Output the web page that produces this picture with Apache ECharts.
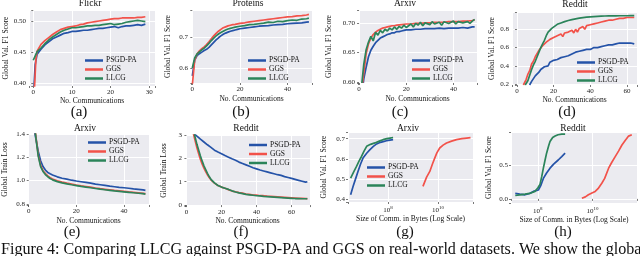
<!DOCTYPE html>
<html><head><meta charset="utf-8">
<script src="https://cdn.jsdelivr.net/npm/echarts@6/dist/echarts.min.js"></script>
<style>html,body{margin:0;padding:0;background:#fff}#c{width:640px;height:256px}</style>
</head><body><div id="c"></div>
<script>
const NAMES = ['PSGD-PA', 'GGS', 'LLCG'];
const COLORS = ['#2553a8', '#f2524a', '#2b845a'];

// (a) Flickr: [communications, F1]
const flickrPSGD = [[0.2,0.395],[0.5,0.43],[1,0.447],[2,0.455],[3,0.462],[4,0.467],[5,0.472],[6,0.475],[7,0.478],[8,0.481],[9,0.482],[10,0.484],[11,0.484],[12,0.485],[13,0.486],[14,0.486],[15,0.487],[16,0.488],[17,0.489],[18,0.489],[19,0.490],[20,0.491],[21,0.492],[22,0.490],[23,0.492],[24,0.493],[25,0.493],[26,0.494],[27,0.495],[28,0.494],[29,0.496]];
const flickrGGS = [[0.3,0.39],[0.7,0.44],[1,0.452],[2,0.463],[3,0.469],[4,0.474],[5,0.479],[6,0.483],[7,0.487],[8,0.489],[9,0.491],[10,0.492],[11,0.493],[12,0.495],[13,0.496],[14,0.498],[15,0.499],[16,0.500],[17,0.501],[18,0.502],[19,0.503],[20,0.504],[21,0.505],[22,0.505],[23,0.506],[24,0.506],[25,0.506],[26,0.506],[27,0.507],[28,0.507],[29,0.508]];
const flickrLLCG = [[0,0.437],[1,0.451],[2,0.457],[3,0.464],[4,0.470],[5,0.475],[6,0.479],[7,0.483],[8,0.486],[9,0.488],[10,0.490],[11,0.490],[12,0.491],[13,0.492],[14,0.493],[15,0.493],[16,0.494],[17,0.494],[18,0.495],[19,0.496],[20,0.497],[21,0.495],[22,0.496],[23,0.497],[24,0.499],[25,0.500],[26,0.501],[27,0.502],[28,0.501],[29,0.500]];

// (b) Proteins
const proteinsPSGD = [[0,0.575],[1,0.625],[2,0.640],[3,0.646],[4,0.651],[5,0.656],[6,0.660],[7,0.666],[8,0.674],[9,0.682],[10,0.690],[11,0.697],[12,0.703],[13,0.708],[14,0.712],[15,0.715],[16,0.718],[17,0.720],[18,0.722],[19,0.724],[20,0.726],[22,0.728],[24,0.730],[26,0.732],[28,0.734],[30,0.735],[32,0.736],[34,0.738],[36,0.739],[38,0.740],[40,0.742],[42,0.743],[44,0.744],[46,0.745],[48,0.747],[49,0.748]];
const proteinsGGS = [[0,0.545],[1,0.625],[2,0.645],[3,0.655],[4,0.662],[5,0.668],[6,0.675],[7,0.684],[8,0.694],[9,0.703],[10,0.711],[11,0.718],[12,0.724],[13,0.729],[14,0.732],[15,0.735],[16,0.737],[17,0.739],[18,0.740],[20,0.743],[22,0.745],[24,0.748],[26,0.750],[28,0.752],[30,0.754],[32,0.756],[34,0.758],[36,0.760],[38,0.762],[40,0.764],[42,0.765],[44,0.767],[46,0.768],[48,0.770],[49,0.772]];
const proteinsLLCG = [[0,0.600],[1,0.632],[2,0.645],[3,0.652],[4,0.658],[5,0.664],[6,0.671],[7,0.679],[8,0.688],[9,0.696],[10,0.703],[11,0.709],[12,0.714],[13,0.718],[14,0.722],[15,0.725],[16,0.727],[17,0.729],[18,0.731],[20,0.734],[22,0.736],[24,0.739],[26,0.740],[28,0.742],[30,0.744],[32,0.747],[34,0.746],[36,0.750],[38,0.749],[40,0.752],[42,0.754],[44,0.753],[46,0.757],[48,0.758],[49,0.760]];

// (c) Arxiv
const arxivPSGD = [[1.8,0.598],[2,0.605],[3,0.625],[4,0.643],[5,0.654],[6,0.661],[7,0.667],[8,0.671],[9,0.675],[10,0.677],[11,0.679],[12,0.681],[13,0.682],[14,0.684],[15,0.684],[16,0.686],[17,0.686],[18,0.687],[19,0.688],[20,0.689],[22,0.689],[24,0.690],[26,0.690],[28,0.691],[30,0.691],[32,0.691],[34,0.692],[36,0.691],[38,0.692],[40,0.692],[42,0.692],[44,0.693],[46,0.692],[48,0.694],[49,0.694]];
const arxivGGS = [[1.5,0.598],[2,0.615],[3,0.648],[4,0.665],[5,0.675],[6,0.681],[7,0.685],[8,0.688],[9,0.690],[10,0.692],[11,0.693],[12,0.694],[13,0.695],[14,0.696],[15,0.696],[16,0.697],[18,0.698],[20,0.699],[22,0.699],[24,0.700],[26,0.700],[28,0.701],[30,0.701],[32,0.702],[34,0.702],[36,0.702],[38,0.703],[40,0.703],[42,0.703],[44,0.704],[46,0.704],[48,0.705],[49,0.706]];
const arxivLLCG = [[1.2,0.598],[2,0.63],[3,0.655],[4,0.668],[5,0.678],[6,0.670],[7,0.685],[8,0.680],[9,0.688],[10,0.684],[11,0.690],[12,0.687],[13,0.692],[14,0.689],[15,0.694],[16,0.690],[17,0.695],[18,0.692],[19,0.697],[20,0.693],[22,0.699],[23,0.694],[24,0.700],[25,0.697],[26,0.702],[27,0.696],[28,0.701],[30,0.698],[31,0.703],[32,0.699],[34,0.702],[35,0.697],[36,0.703],[38,0.700],[40,0.704],[41,0.699],[42,0.703],[44,0.701],[46,0.703],[47,0.700],[48,0.704],[49,0.707]];

// (d) Reddit
const redditPSGD = [[6.9,0.19],[8,0.23],[9,0.26],[10,0.29],[11,0.31],[12,0.33],[13,0.36],[14,0.37],[15,0.39],[16,0.41],[17,0.40],[18,0.44],[19,0.43],[20,0.46],[21,0.44],[22,0.47],[23,0.46],[24,0.49],[25,0.47],[26,0.50],[27,0.49],[28,0.51],[29,0.50],[30,0.53],[31,0.52],[32,0.55],[33,0.53],[34,0.56],[35,0.55],[36,0.57],[37,0.56],[38,0.58],[39,0.57],[40,0.58],[41,0.57],[42,0.60],[43,0.58],[44,0.60],[45,0.59],[46,0.61],[47,0.60],[48,0.62],[49,0.61],[50,0.63],[51,0.61],[52,0.63],[53,0.62],[54,0.64],[55,0.63],[56,0.65],[57,0.63],[58,0.65],[59,0.64],[60,0.65],[61,0.64],[62,0.65],[63,0.64],[64,0.64]];
const redditGGS = [[3.5,0.19],[5,0.25],[6,0.31],[7,0.35],[8,0.42],[9,0.45],[10,0.50],[11,0.52],[12,0.57],[13,0.58],[14,0.62],[15,0.63],[16,0.66],[17,0.64],[18,0.69],[19,0.67],[20,0.71],[21,0.70],[22,0.73],[23,0.71],[24,0.75],[25,0.72],[26,0.76],[27,0.74],[28,0.77],[29,0.75],[30,0.79],[31,0.76],[32,0.80],[33,0.77],[34,0.81],[35,0.79],[36,0.83],[37,0.80],[38,0.84],[39,0.82],[40,0.85],[41,0.83],[42,0.86],[43,0.84],[44,0.87],[45,0.85],[46,0.88],[47,0.87],[48,0.89],[49,0.87],[50,0.90],[51,0.88],[52,0.90],[53,0.89],[54,0.91],[55,0.90],[56,0.92],[57,0.90],[58,0.92],[59,0.91],[60,0.93],[61,0.92],[62,0.93],[63,0.92],[64,0.93]];
const redditLLCG = [[4.5,0.19],[6,0.24],[7,0.30],[8,0.36],[9,0.41],[10,0.45],[11,0.50],[12,0.55],[13,0.60],[14,0.64],[15,0.68],[16,0.73],[17,0.77],[18,0.79],[19,0.81],[20,0.83],[22,0.855],[24,0.87],[26,0.885],[28,0.897],[30,0.907],[32,0.915],[34,0.922],[36,0.928],[38,0.933],[40,0.937],[42,0.940],[44,0.943],[46,0.945],[48,0.946],[50,0.947],[52,0.948],[54,0.948],[56,0.949],[58,0.949],[60,0.949],[62,0.950],[64,0.950]];

// (e) Arxiv train loss
const arxivLossPSGD = [[2.2,1.45],[3,1.36],[4,1.25],[5,1.17],[6,1.12],[7,1.09],[8,1.07],[9,1.058],[10,1.048],[12,1.032],[14,1.020],[16,1.012],[18,1.003],[20,0.996],[22,0.990],[24,0.984],[26,0.978],[28,0.970],[30,0.964],[32,0.958],[34,0.952],[36,0.947],[38,0.942],[40,0.938],[42,0.934],[44,0.929],[46,0.925],[48,0.920],[49,0.916]];
const arxivLossGGS = [[2.6,1.45],[3,1.38],[4,1.22],[5,1.13],[6,1.085],[7,1.06],[8,1.04],[9,1.025],[10,1.013],[12,0.998],[14,0.987],[16,0.978],[18,0.970],[20,0.962],[22,0.955],[24,0.949],[26,0.943],[28,0.936],[30,0.930],[32,0.925],[34,0.920],[36,0.915],[38,0.911],[40,0.907],[42,0.902],[44,0.898],[46,0.894],[48,0.890],[49,0.887]];
const arxivLossLLCG = [[2.6,1.45],[3,1.37],[4,1.21],[5,1.12],[6,1.078],[7,1.052],[8,1.033],[9,1.018],[10,1.006],[12,0.991],[14,0.980],[16,0.972],[18,0.964],[20,0.957],[22,0.950],[24,0.944],[26,0.938],[28,0.932],[30,0.926],[32,0.921],[34,0.916],[36,0.911],[38,0.907],[40,0.903],[42,0.899],[44,0.895],[46,0.891],[48,0.887],[49,0.884]];

// (f) Reddit train loss
const redditLossPSGD = [[4.5,3.05],[6,2.95],[7,2.88],[8,2.82],[9,2.78],[10,2.70],[11,2.66],[12,2.58],[13,2.55],[14,2.47],[15,2.44],[16,2.35],[17,2.36],[18,2.27],[19,2.24],[20,2.20],[21,2.16],[22,2.12],[23,2.10],[24,2.05],[25,2.04],[26,1.98],[27,1.99],[28,1.92],[29,1.90],[30,1.84],[31,1.85],[32,1.78],[33,1.77],[34,1.72],[35,1.71],[36,1.66],[37,1.68],[38,1.60],[39,1.60],[40,1.55],[41,1.56],[42,1.50],[43,1.51],[44,1.46],[45,1.47],[46,1.42],[47,1.43],[48,1.38],[49,1.38],[50,1.34],[51,1.36],[52,1.30],[53,1.31],[54,1.27],[55,1.27],[56,1.22],[57,1.24],[58,1.18],[59,1.20],[60,1.14],[61,1.16],[62,1.10],[63,1.12],[64,1.06],[65,1.08],[66,1.02],[67,1.05],[68,0.98],[69,1.00]];
const redditLossGGS = [[4,3.05],[5,2.75],[6,2.45],[7,2.20],[8,1.95],[9,1.75],[10,1.58],[11,1.43],[12,1.30],[13,1.18],[14,1.08],[15,1.00],[16,0.94],[17,0.88],[18,0.84],[19,0.82],[20,0.77],[21,0.76],[22,0.72],[23,0.71],[24,0.66],[25,0.66],[26,0.60],[27,0.61],[28,0.57],[29,0.56],[30,0.53],[32,0.51],[34,0.47],[36,0.46],[38,0.43],[40,0.43],[42,0.40],[44,0.40],[46,0.38],[48,0.37],[50,0.36],[52,0.35],[54,0.34],[56,0.33],[58,0.32],[60,0.31],[62,0.30],[64,0.29],[66,0.29],[68,0.28],[69,0.28]];
const redditLossLLCG = [[4.5,3.05],[5,2.90],[6,2.60],[7,2.35],[8,2.10],[9,1.88],[10,1.68],[11,1.52],[12,1.36],[13,1.22],[14,1.10],[15,1.02],[16,0.95],[17,0.89],[18,0.84],[19,0.80],[20,0.77],[21,0.75],[22,0.72],[23,0.70],[24,0.67],[25,0.64],[26,0.61],[27,0.59],[28,0.56],[29,0.54],[30,0.52],[32,0.49],[34,0.46],[36,0.44],[38,0.42],[40,0.40],[42,0.39],[44,0.37],[46,0.36],[48,0.35],[50,0.34],[52,0.33],[54,0.32],[56,0.31],[58,0.30],[60,0.29],[62,0.28],[64,0.28],[66,0.27],[68,0.27],[69,0.27]];

// (g) Arxiv: [bytes communicated, F1]
const arxivBytesPSGD = [[3.2e6,0.423],[4.0e6,0.464],[5.0e6,0.50],[6.3e6,0.538],[8.0e6,0.575],[1.0e7,0.604],[1.4e7,0.628],[1.9e7,0.646],[2.6e7,0.662],[3.5e7,0.674],[5.0e7,0.682],[7.0e7,0.687],[8.7e7,0.690],[1.2e8,0.693],[1.6e8,0.695]];
const arxivBytesGGS = [[2.5e9,0.464],[3.5e9,0.51],[4.7e9,0.538],[6.0e9,0.575],[7.4e9,0.604],[9.0e9,0.63],[1.17e10,0.654],[1.6e10,0.668],[2.2e10,0.679],[3.5e10,0.688],[5.5e10,0.695],[9.0e10,0.700],[1.4e11,0.703],[2.0e11,0.705]];
const arxivBytesLLCG = [[3.2e6,0.505],[4.2e6,0.535],[5.5e6,0.563],[7.0e6,0.59],[8.7e6,0.612],[1.1e7,0.638],[1.4e7,0.662],[2.0e7,0.672],[3.0e7,0.679],[4.5e7,0.688],[6.3e7,0.695],[9.0e7,0.700],[1.2e8,0.703],[1.6e8,0.706]];

// (h) Reddit: [bytes communicated, F1]
const redditBytesPSGD = [[1.5e7,0.08],[2.2e7,0.07],[3.4e7,0.06],[5.0e7,0.08],[6.9e7,0.11],[1.05e8,0.13],[1.3e8,0.20],[1.6e8,0.30],[2.1e8,0.38],[2.8e8,0.45],[3.8e8,0.51],[5.6e8,0.57],[7.5e8,0.62],[1.0e9,0.67]];
const redditBytesGGS = [[4.1e9,0.01],[5.5e9,0.03],[7.1e9,0.06],[1.0e10,0.09],[1.26e10,0.11],[1.6e10,0.15],[2.2e10,0.23],[2.8e10,0.30],[3.9e10,0.45],[5.0e10,0.53],[6.8e10,0.62],[9.0e10,0.70],[1.2e11,0.79],[1.6e11,0.86],[2.1e11,0.92],[2.75e11,0.94]];
const redditBytesLLCG = [[1.5e7,0.05],[2.2e7,0.06],[3.4e7,0.07],[5.0e7,0.08],[7.9e7,0.11],[1.0e8,0.16],[1.2e8,0.21],[1.4e8,0.33],[1.6e8,0.45],[1.85e8,0.57],[2.1e8,0.67],[2.5e8,0.78],[2.8e8,0.84],[3.5e8,0.90],[4.3e8,0.92],[5.5e8,0.94],[7.6e8,0.95],[1.0e9,0.95]];

const TITLES = ['Flickr', 'Proteins', 'Arxiv', 'Reddit', 'Arxiv', 'Reddit', 'Arxiv', 'Reddit'];
const CAPTIONS = ['(a)', '(b)', '(c)', '(d)', '(e)', '(f)', '(g)', '(h)'];
const XNAMES = ['No. Communications', 'No. Communications', 'No. Communications', 'No. Communications', 'No. Communications', 'No. Communications', 'Size of Comm. in Bytes (Log Scale)', 'Size of Comm. in Bytes (Log Scale)'];
const YNAMES = ['Global Val. F1 Score', 'Global Val. F1 Score', 'Global Val. F1 Score', 'Global Val. F1 Score', 'Global Train Loss', 'Global Train Loss', 'Global Val. F1 Score', 'Global Val. F1 Score'];
const FIG_CAPTION = 'Figure 4: Comparing LLCG against PSGD-PA and GGS on real-world datasets. We show the global';

const DATA = [
  [flickrPSGD, flickrGGS, flickrLLCG],
  [proteinsPSGD, proteinsGGS, proteinsLLCG],
  [arxivPSGD, arxivGGS, arxivLLCG],
  [redditPSGD, redditGGS, redditLLCG],
  [arxivLossPSGD, arxivLossGGS, arxivLossLLCG],
  [redditLossPSGD, redditLossGGS, redditLossLLCG],
  [arxivBytesPSGD, arxivBytesGGS, arxivBytesLLCG],
  [redditBytesPSGD, redditBytesGGS, redditBytesLLCG]
];

// layout (pixels) and axis ranges
const LAYOUT = [
  {g:[29,10,126,76],  x:[-1.1,31.5,10,0], y:[0.395,0.519,0.05,2], yg:18, xg:9,  t:[90,3],   c:[79,112],  lg:[85,56.5]},
  {g:[191,10,121,73], x:[-0.55,50.3,20,0], y:[0.552,0.786,0.1,1], yg:19, xg:12, t:[248,3],  c:[241,112], lg:[248,56.5]},
  {g:[358,10,119,73], x:[-0.45,50,20,0],  y:[0.598,0.723,0.05,2], yg:25, xg:12, t:[405,3],  c:[400,112], lg:[412,56.5]},
  {g:[512,12,125,73], x:[-2.7,65.5,20,0], y:[0.19,0.99,0.2,1],    yg:15, xg:11, t:[575,4],  c:[567,112], lg:[577,58.5]},
  {g:[28,134,121,71], x:[-0.3,50.5,20,0], y:[0.79,1.4,0.2,1],     yg:19, xg:12, t:[85,128], c:[72,232],  lg:[88,138.5]},
  {g:[185,135,125,71],x:[-0.8,70.5,20,0], y:[-0.04,3.0,1,0],      yg:17, xg:10, t:[246,128],c:[241,232], lg:[249,141]},
  {g:[348,132,125,70],x:[6.4,11.4,'log'], y:[0.387,0.733,0.1,1],  yg:20, xg:13, t:[408,128],c:[405,232], lg:[367,163.5]},
  {g:[511,132,126,71],x:[7.02,11.63,'log'],y:[-0.06,0.98,0.5,1],  yg:18, xg:13, t:[573,128],c:[563,232], lg:null}
];

const FONT = '"Liberation Serif", "Times New Roman", serif';
const near = (v, step) => Math.abs(v / step - Math.round(v / step)) < 1e-6;
const stepFormatter = (step, dec) => v => near(v, step) ? (Math.round(v / step) * step).toFixed(dec) : '';
const logFormatter = v => {
  const e = Math.log10(v);
  return Math.abs(e - Math.round(e)) < 1e-6 ? '10{s|' + Math.round(e) + '}' : '';
};

const grid = [], xAxis = [], yAxis = [], series = [], legend = [], graphic = [];
LAYOUT.forEach((L, i) => {
  grid.push({left: L.g[0], top: L.g[1], width: L.g[2], height: L.g[3], show: true,
    backgroundColor: '#ebebf0', borderWidth: 0, containLabel: false});
  const common = {
    gridIndex: i,
    axisLine: {show: false},
    axisTick: {show: true, length: 2, lineStyle: {color: '#555', width: 0.8}},
    splitLine: {show: true, lineStyle: {color: '#ffffff', width: 1}},
    nameLocation: 'middle',
    nameTextStyle: {fontFamily: FONT, fontSize: 7.5, color: '#111'}
  };
  if (L.x[2] === 'log') {
    xAxis.push(Object.assign({}, common, {
      type: 'log', logBase: 100, min: Math.pow(10, L.x[0]), max: Math.pow(10, L.x[1]),
      name: XNAMES[i], nameGap: L.xg,
      axisLabel: {fontFamily: FONT, fontSize: 7, color: '#222', margin: 3, formatter: logFormatter,
        rich: {s: {fontFamily: FONT, fontSize: 5, verticalAlign: 'bottom', padding: [0, 0, 5, 0], color: '#222'}}}
    }));
  } else {
    xAxis.push(Object.assign({}, common, {
      type: 'value', min: L.x[0], max: L.x[1], minInterval: L.x[2], maxInterval: L.x[2],
      name: XNAMES[i], nameGap: L.xg,
      axisLabel: {fontFamily: FONT, fontSize: 7, color: '#222', margin: 3, formatter: stepFormatter(L.x[2], L.x[3])}
    }));
  }
  yAxis.push(Object.assign({}, common, {
    type: 'value', min: L.y[0], max: L.y[1], minInterval: L.y[2], maxInterval: L.y[2],
    name: YNAMES[i], nameGap: L.yg,
    axisLabel: {fontFamily: FONT, fontSize: 7, color: '#222', margin: 3, formatter: stepFormatter(L.y[2], L.y[3])}
  }));
  DATA[i].forEach((d, k) => {
    series.push({type: 'line', name: NAMES[k], xAxisIndex: i, yAxisIndex: i, data: d,
      showSymbol: false, symbol: 'none', clip: true, z: 2 + k,
      lineStyle: {color: COLORS[k], width: 1.7}, itemStyle: {color: COLORS[k]}});
  });
  if (L.lg) {
    legend.push({data: NAMES, orient: 'vertical', left: L.lg[0], top: L.lg[1], padding: 0,
      itemWidth: 18, itemHeight: 2.5, itemGap: 1, icon: 'rect', selectedMode: false,
      textStyle: {fontFamily: FONT, fontSize: 7.5, color: '#111', lineHeight: 7.5, padding: [0, 0, 0, -2]}});
  }
  graphic.push({type: 'text', x: L.t[0], y: L.t[1], style: {text: TITLES[i], font: '9.5px ' + FONT, fill: '#111',
    textAlign: 'center', textVerticalAlign: 'middle', align: 'center', verticalAlign: 'middle'}});
  graphic.push({type: 'text', x: L.c[0], y: L.c[1], style: {text: CAPTIONS[i], font: '15px ' + FONT, fill: '#111',
    textAlign: 'center', textVerticalAlign: 'middle', align: 'center', verticalAlign: 'middle'}});
});
graphic.push({type: 'text', x: 1, y: 250, style: {text: FIG_CAPTION, font: '16.1px ' + FONT, fill: '#111',
  textAlign: 'left', textVerticalAlign: 'middle', align: 'left', verticalAlign: 'middle'}});

const chart = echarts.init(document.getElementById('c'), null, {renderer: 'canvas'});
chart.setOption({animation: false, backgroundColor: '#fff', grid, xAxis, yAxis, series, legend, graphic});
</script></body></html>
